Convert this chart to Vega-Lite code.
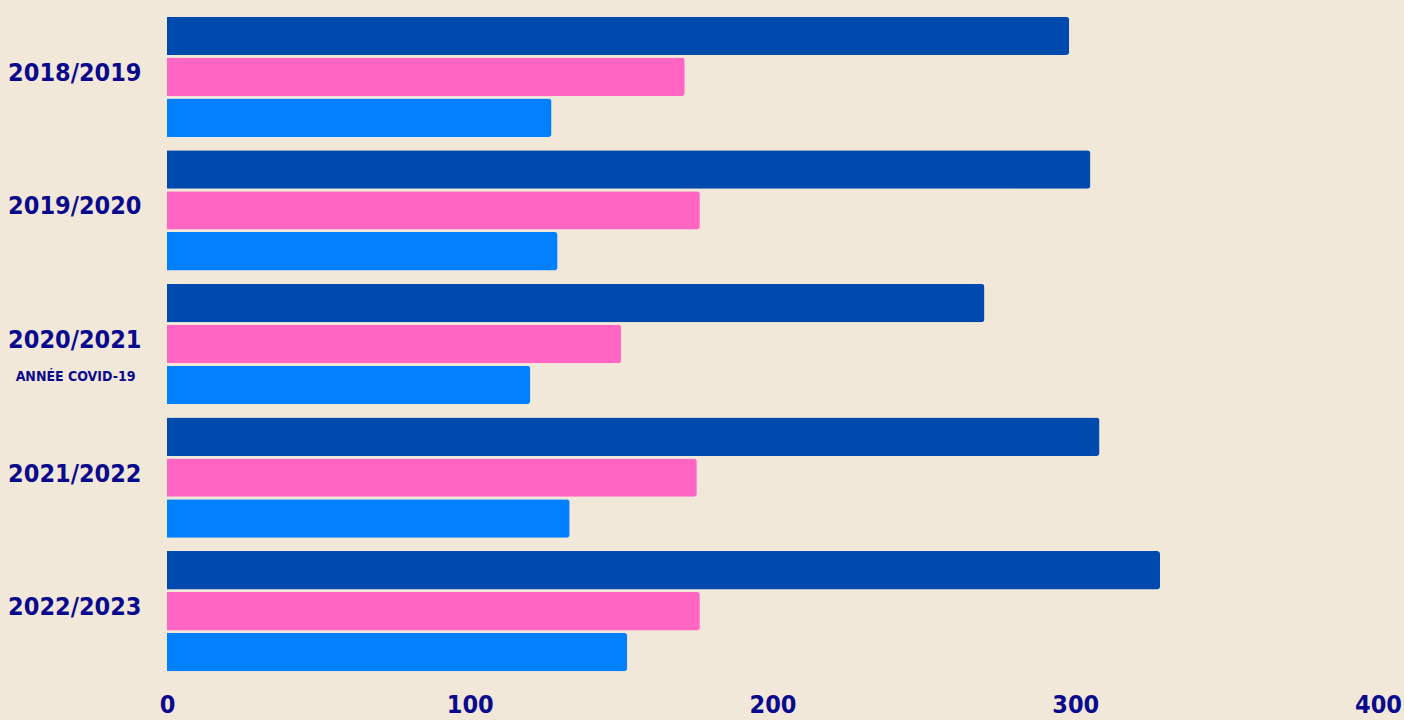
{
  "$schema": "https://vega.github.io/schema/vega-lite/v6.json",
  "autosize": "none",
  "padding": {"left": 167, "top": 10, "right": 26, "bottom": 42},
  "width": 1211,
  "height": 668,
  "background": "#f2e8da",
  "config": {"view": {"stroke": null}},
  "datasets": {
    "bars": [
      {"saison": "2018/2019", "serie": "A", "valeur": 298},
      {"saison": "2018/2019", "serie": "B", "valeur": 171},
      {"saison": "2018/2019", "serie": "C", "valeur": 127},
      {"saison": "2019/2020", "serie": "A", "valeur": 305},
      {"saison": "2019/2020", "serie": "B", "valeur": 176},
      {"saison": "2019/2020", "serie": "C", "valeur": 129},
      {"saison": "2020/2021", "serie": "A", "valeur": 270},
      {"saison": "2020/2021", "serie": "B", "valeur": 150},
      {"saison": "2020/2021", "serie": "C", "valeur": 120},
      {"saison": "2021/2022", "serie": "A", "valeur": 308},
      {"saison": "2021/2022", "serie": "B", "valeur": 175},
      {"saison": "2021/2022", "serie": "C", "valeur": 133},
      {"saison": "2022/2023", "serie": "A", "valeur": 328},
      {"saison": "2022/2023", "serie": "B", "valeur": 176},
      {"saison": "2022/2023", "serie": "C", "valeur": 152}
    ],
    "notes": [
      {"saison": "2020/2021", "note": "ANNÉE COVID-19"}
    ]
  },
  "layer": [
    {
      "data": {"name": "bars"},
      "mark": {"type": "bar", "cornerRadiusEnd": 3},
      "encoding": {
        "y": {
          "field": "saison",
          "type": "nominal",
          "sort": null,
          "scale": {"paddingInner": 0.1, "paddingOuter": 0.05},
          "axis": {
            "title": null,
            "domain": false,
            "ticks": false,
            "labelAlign": "right",
            "labelBaseline": "middle",
            "labelPadding": 26,
            "labelOffset": -4,
            "labelFont": "DejaVu Sans Condensed",
            "labelFontWeight": "bold",
            "labelFontSize": 25,
            "labelColor": "#0a0a8c"
          }
        },
        "yOffset": {
          "field": "serie",
          "type": "nominal",
          "sort": ["A", "B", "C"],
          "scale": {"paddingInner": 0.06, "paddingOuter": 0}
        },
        "x": {
          "field": "valeur",
          "type": "quantitative",
          "scale": {"domain": [0, 400], "nice": false},
          "axis": {
            "title": null,
            "domain": false,
            "ticks": false,
            "grid": false,
            "values": [0, 100, 200, 300, 400],
            "labelPadding": 14,
            "labelFlush": false,
            "labelFont": "DejaVu Sans Condensed",
            "labelFontWeight": "bold",
            "labelFontSize": 25,
            "labelColor": "#0a0a8c"
          }
        },
        "color": {
          "field": "serie",
          "type": "nominal",
          "scale": {"domain": ["A", "B", "C"], "range": ["#004aad", "#ff66c4", "#007fff"]},
          "legend": null
        }
      }
    },
    {
      "data": {"name": "notes"},
      "mark": {
        "type": "text",
        "align": "left",
        "baseline": "middle",
        "dy": 33,
        "font": "DejaVu Sans Condensed",
        "fontWeight": "bold",
        "fontSize": 14,
        "color": "#0a0a8c",
        "clip": false
      },
      "encoding": {
        "y": {"field": "saison", "type": "nominal", "sort": null},
        "x": {"datum": -50, "type": "quantitative"},
        "text": {"field": "note"}
      }
    }
  ]
}
